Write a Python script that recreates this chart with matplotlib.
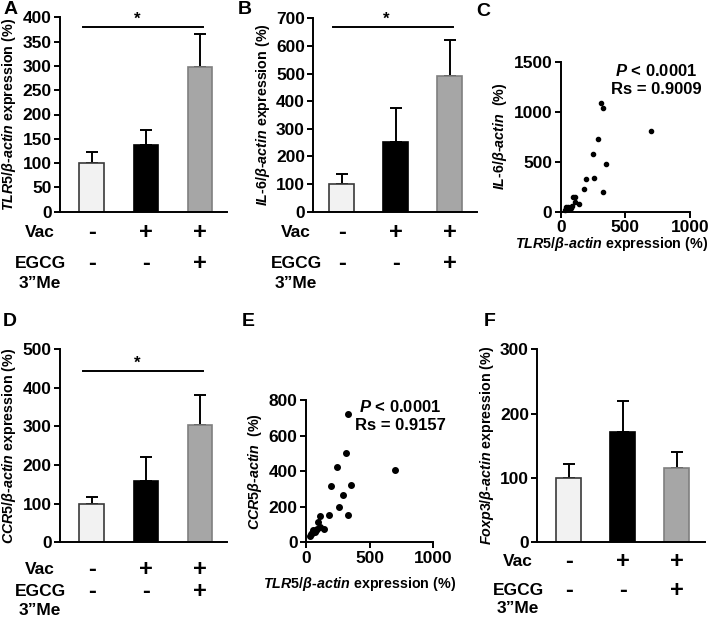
import matplotlib
matplotlib.use("Agg")
import matplotlib.pyplot as plt

plt.rcParams['font.family'] = ['Liberation Sans', 'DejaVu Sans']
plt.rcParams['font.weight'] = 'bold'
plt.rcParams['axes.labelweight'] = 'bold'
plt.rcParams['mathtext.fontset'] = 'custom'
plt.rcParams['mathtext.it'] = 'Liberation Sans:italic:bold'
plt.rcParams['mathtext.rm'] = 'Liberation Sans:bold'
plt.rcParams['mathtext.bf'] = 'Liberation Sans:bold'
plt.rcParams['axes.linewidth'] = 1.4

# bar data (mean, upper SEM)
tlr5_mean = [100, 137, 298]
tlr5_err = [23, 32, 68]
il6_mean = [100, 252, 492]
il6_err = [38, 124, 128]
ccr5_mean = [100, 160, 305]
ccr5_err = [18, 60, 77]
foxp3_mean = [100, 171, 115]
foxp3_err = [21, 49, 26]

vac_signs = ['-', '+', '+']
egcg_signs = ['-', '-', '+']

# scatter data (per sample)
tlr5_pts = [313, 330, 697, 290, 246, 352, 195, 256, 177, 328, 110, 95, 144, 108,
            89, 58, 47, 31, 70, 40, 60, 80]
il6_pts = [1083, 1033, 803, 723, 580, 473, 323, 340, 223, 200, 147, 147, 73, 97,
           55, 45, 35, 20, 30, 50, 25, 40]
ccr5_pts = [504, 723, 404, 268, 423, 320, 316, 200, 152, 155, 148, 112, 75, 88,
            73, 69, 54, 37, 60, 45, 65, 70]

W, H = 708, 617
fig = plt.figure(figsize=(W / 100, H / 100), dpi=100)


def px_axes(left, right, bottom, top):
    return fig.add_axes([left / W, 1 - bottom / H, (right - left) / W, (bottom - top) / H])


face = ['#f2f2f2', '#000000', '#a6a6a6']
edge = ['#3a3a3a', '#000000', '#7f7f7f']


def bar_panel(ax, means, errs, ymax, step, ylabel, xl, sig, rows):
    x = range(len(means))
    ax.bar(x, means, width=0.46, color=face, edgecolor=edge, linewidth=1.2, zorder=2)
    ax.errorbar(x, means, yerr=[[0] * len(errs), errs], fmt='none', ecolor='black',
                elinewidth=1.4, capsize=4, capthick=1.4, zorder=1)
    ax.set_xlim(*xl)
    ax.set_ylim(0, ymax)
    ax.set_yticks(range(0, ymax + 1, step))
    ax.set_xticks([])
    ax.spines[['top', 'right']].set_visible(False)
    ax.tick_params(axis='y', labelsize=12.5, width=1.4, length=4, pad=2)
    ax.set_ylabel(ylabel, fontsize=10.3, labelpad=3)
    if sig is not None:
        ax.plot([-0.17, 2.06], [sig, sig], color='black', lw=1.4, clip_on=False)
        ax.text(0.83, sig, '*', ha='center', va='bottom', fontsize=12)
    vac_off, egcg_off, me_off, lab_x = rows
    for i in x:
        ax.annotate(vac_signs[i], (i, 0), xycoords=('data', 'axes fraction'),
                    xytext=(0, -vac_off * 0.72), textcoords='offset points',
                    ha='center', va='center', fontsize=17)
        ax.annotate(egcg_signs[i], (i, 0), xycoords=('data', 'axes fraction'),
                    xytext=(0, -egcg_off * 0.72), textcoords='offset points',
                    ha='center', va='center', fontsize=17)
    ax.annotate('Vac', (0, 0), xycoords='axes fraction', xytext=(lab_x * 0.72, -vac_off * 0.72),
                textcoords='offset points', ha='center', va='center', fontsize=12.5)
    ax.annotate('EGCG', (0, 0), xycoords='axes fraction', xytext=(lab_x * 0.72, -egcg_off * 0.72),
                textcoords='offset points', ha='center', va='center', fontsize=12.5)
    ax.annotate('3”Me', (0, 0), xycoords='axes fraction', xytext=(lab_x * 0.72, -me_off * 0.72),
                textcoords='offset points', ha='center', va='center', fontsize=12.5)


def scatter_panel(ax, xs, ys, ymax, yticks, ylabel, msize, ptxt, rtxt, txt_y, xlab_pos):
    ax.scatter(xs, ys, s=msize, color='black', zorder=3, clip_on=False)
    ax.set_xlim(0, 1000)
    ax.set_ylim(0, ymax)
    ax.set_xticks([0, 500, 1000])
    ax.set_yticks(yticks)
    ax.spines[['top', 'right']].set_visible(False)
    ax.tick_params(labelsize=12.5, width=1.4, length=4, pad=2)
    ax.set_xlabel(r'$TLR5$/$\beta$-$actin$ expression (%)', fontsize=10.3)
    ax.xaxis.set_label_coords(*xlab_pos)
    ax.set_ylabel(ylabel, fontsize=10.3, labelpad=3)
    ax.text(0.74, txt_y, ptxt, transform=ax.transAxes, ha='center', va='center', fontsize=12)
    ax.text(0.74, txt_y - 18.5 / ax.bbox.height, rtxt, transform=ax.transAxes,
            ha='center', va='center', fontsize=12)


# A
axA = px_axes(60, 227, 211.7, 17.3)
bar_panel(axA, tlr5_mean, tlr5_err, 400, 50, r'$TLR5$/$\beta$-$actin$ expression (%)',
          (-0.59, 2.5), 380, (21, 52, 72, -20))
# B
axB = px_axes(313.3, 476.7, 211.7, 18.3)
bar_panel(axB, il6_mean, il6_err, 700, 100, r'$IL$-$6$/$\beta$-$actin$ expression (%)',
          (-0.53, 2.5), 670, (21, 52, 72, -17))
# D
axD = px_axes(60, 227, 542.3, 349.3)
bar_panel(axD, ccr5_mean, ccr5_err, 500, 100, r'$CCR5$/$\beta$-$actin$ expression (%)',
          (-0.59, 2.5), 444, (27, 49, 68, -20))
# F
axF = px_axes(537.3, 705, 542.3, 349.3)
bar_panel(axF, foxp3_mean, foxp3_err, 300, 100, r'$Foxp3$/$\beta$-$actin$ expression (%)',
          (-0.58, 2.52), None, (19, 48, 66, -19))
# C
axC = px_axes(560.7, 690, 211.7, 61.7)
scatter_panel(axC, tlr5_pts, il6_pts, 1500, [0, 500, 1000, 1500],
              r'$IL$-$6$/$\beta$-$actin$  (%)', 9, r'$P$ < 0.0001', 'Rs = 0.9009', 0.94,
              (0.394, -0.155))
# E
axE = px_axes(306, 433.3, 542.3, 400)
scatter_panel(axE, tlr5_pts, ccr5_pts, 800, [0, 200, 400, 600, 800],
              r'$CCR5\beta$-$actin$  (%)', 16, r'$P$ < 0.0001', 'Rs = 0.9157', 0.95,
              (0.424, -0.23))

# panel letters
for lbl, (px, py) in {'A': (11, 9), 'B': (245, 10), 'C': (483, 12),
                      'D': (10, 322), 'E': (248, 322), 'F': (490, 322)}.items():
    fig.text(px / W, 1 - py / H, lbl, fontsize=14, ha='center', va='center')

fig.savefig('out.png', dpi=100)
